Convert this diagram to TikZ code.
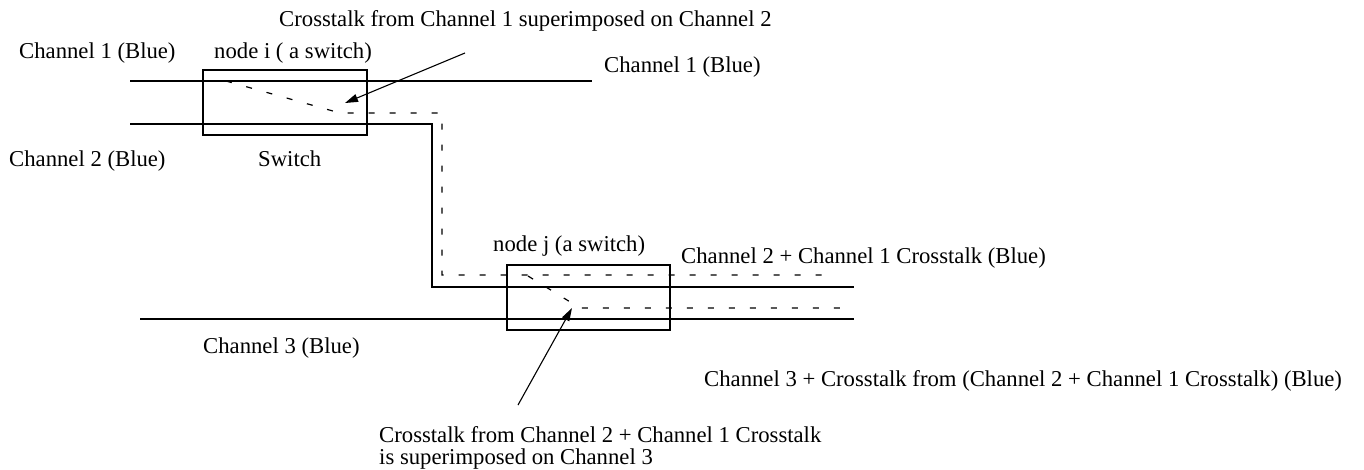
\documentclass[tikz,border=0pt]{standalone}
\usepackage{fontspec}
\setmainfont{Liberation Serif}
\usetikzlibrary{arrows.meta}
\begin{document}
\begin{tikzpicture}[x=1pt,y=-1pt,
  lbl/.style={anchor=base west,inner sep=0pt,font=\fontsize{22.7}{27}\selectfont},
  chan/.style={line width=1.2pt},
  boxx/.style={draw,line width=1.2pt},
  xtalk/.style={line width=1.2pt,dash pattern=on 6pt off 15pt},
  ptr/.style={line width=1.1pt,-{Triangle[length=13pt,width=8pt]}}]
\useasboundingbox (0,0) rectangle (1364,469);
% switch boxes
\draw[boxx] (203,70) rectangle (367,135);
\draw[boxx] (507,265) rectangle (670,330);
% channel lines
\coordinate (c1a) at (130,81);
\coordinate (c1b) at (592,81);
\draw[chan] (c1a) -- (c1b);
\coordinate (c2a) at (130,124);
\coordinate (c2b) at (432,124);
\coordinate (c2c) at (432,287);
\coordinate (c2d) at (854,287);
\draw[chan] (c2a) -- (c2b) -- (c2c) -- (c2d);
\coordinate (c3a) at (140,319);
\coordinate (c3b) at (854,319);
\draw[chan] (c3a) -- (c3b);
% crosstalk paths
\coordinate (x1a) at (226,81);
\coordinate (x1b) at (340,113);
\coordinate (x1c) at (442,113);
\coordinate (x1d) at (442,275);
\coordinate (x1e) at (828,275);
\draw[xtalk] (x1a) -- (x1b) -- (x1c) -- (x1d) -- (x1e);
\coordinate (x2a) at (528,276);
\coordinate (x2b) at (580,308);
\coordinate (x2c) at (840,308);
\draw[xtalk] (x2a) -- (x2b) -- (x2c);
% labels
\node[lbl] (t1) at (279,26) {Crosstalk from Channel 1 superimposed on Channel 2};
\node[lbl] (l1) at (19,58) {Channel 1 (Blue)};
\node[lbl] (ni) at (214,58) {node i ( a switch)};
\node[lbl] (r1) at (604,72) {Channel 1 (Blue)};
\node[lbl] (l2) at (9,166) {Channel 2 (Blue)};
\node[lbl] (sw) at (258,166) {Switch};
\node[lbl] (nj) at (493,251) {node j (a switch)};
\node[lbl] (r2) at (681,263) {Channel 2 + Channel 1 Crosstalk (Blue)};
\node[lbl] (l3) at (203,353) {Channel 3 (Blue)};
\node[lbl] (r3) at (704,386) {Channel 3 + Crosstalk from (Channel 2 + Channel 1 Crosstalk) (Blue)};
\node[lbl] (b1) at (379,442) {Crosstalk from Channel 2 + Channel 1 Crosstalk};
\node[lbl] (b2) at (379,464) {is superimposed on Channel 3};
% pointers
\coordinate (p1s) at (465,53);
\coordinate (p1e) at (345,103);
\draw[ptr] (p1s) -- (p1e);
\coordinate (p2s) at (518,405);
\coordinate (p2e) at (572,308);
\draw[ptr] (p2s) -- (p2e);
\end{tikzpicture}
\end{document}
